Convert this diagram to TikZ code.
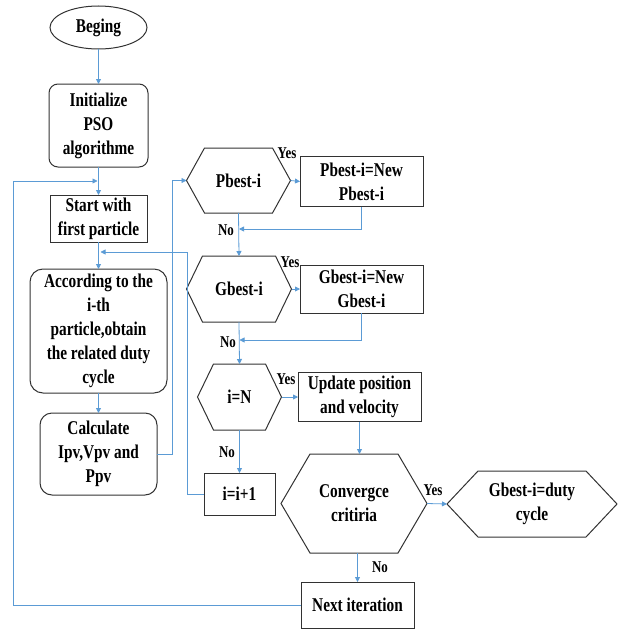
\documentclass[tikz,border=0pt]{standalone}
\usepackage{fontspec}
\setmainfont{Liberation Serif}[FakeStretch=0.785]
\usetikzlibrary{arrows.meta,shapes.geometric}
\definecolor{conncol}{RGB}{91,155,213}
\definecolor{edgecol}{RGB}{50,50,50}
\tikzset{
  txt/.style={font=\fontsize{19.5}{24}\selectfont\bfseries, align=center, inner sep=0pt, outer sep=0pt},
  sqbox/.style={txt, draw=edgecol, line width=1pt},
  rndbox/.style={sqbox, rounded corners=9pt},
  hexin/.style={txt},
  shapeline/.style={draw=edgecol, line width=1pt},
  conn/.style={draw=conncol, line width=0.8pt},
  arr/.style={conn, -{Triangle[length=5pt,width=5pt]}},
  lab/.style={font=\fontsize{16.5}{18}\selectfont\bfseries, inner sep=0pt}
}
\newcommand\myhex[6]{%
  \node[hexin, minimum width=#3, minimum height=#4] (#1) at (#2) {#6};
  \draw[shapeline] (#1.west) -- ([xshift=#5]#1.north west) -- ([xshift=-#5]#1.north east)
    -- (#1.east) -- ([xshift=-#5]#1.south east) -- ([xshift=#5]#1.south west) -- cycle;}
\begin{document}
\begin{tikzpicture}[x=1pt,y=-1pt]
\useasboundingbox (0,0) rectangle (620,629);
% left column
\node[sqbox, ellipse, minimum width=97pt, minimum height=43pt] (begin) at (98.5,27.5) {Beging};
\node[rndbox, minimum width=99pt, minimum height=83pt] (init) at (98.5,125.5) {Initialize\\PSO\\algorithme};
\node[sqbox, minimum width=97pt, minimum height=47pt] (start) at (98.5,218.5) {Start with\\first particle};
\node[rndbox, rounded corners=13pt, minimum width=137pt, minimum height=124pt] (accord) at (98.5,331) {According to the\\i-th\\particle,obtain\\the related duty\\cycle};
\node[rndbox, rounded corners=12pt, minimum width=117pt, minimum height=82pt] (calc) at (98.5,454) {Calculate\\Ipv,Vpv and\\Ppv};
% right column
\myhex{pbest}{238.5,180.5}{104pt}{65pt}{18pt}{Pbest-i}
\node[sqbox, minimum width=123pt, minimum height=50pt] (pnew) at (361.5,181.5) {Pbest-i=New\\Pbest-i};
\myhex{gbest}{239,289}{105pt}{66pt}{16pt}{Gbest-i}
\node[sqbox, minimum width=123pt, minimum height=48pt] (gnew) at (361.5,289) {Gbest-i=New\\Gbest-i};
\myhex{ieqn}{239.5,397}{84pt}{66pt}{16pt}{i=N}
\node[sqbox, minimum width=123pt, minimum height=49pt] (upd) at (359.5,397) {Update position\\and velocity};
\node[sqbox, minimum width=71pt, minimum height=42pt] (inc) at (239.5,494) {i=i+1};
\myhex{conv}{354,503.5}{146pt}{99pt}{29pt}{Convergce\\critiria}
\myhex{duty}{532,504}{170pt}{66pt}{31pt}{Gbest-i=duty\\cycle}
\node[sqbox, minimum width=113pt, minimum height=46pt] (next) at (357.5,605) {Next iteration};
% junction coordinates
\coordinate (jloop) at (98.5,181);
\coordinate (jinc) at (98.5,252);
\coordinate (jp) at (239,229);
\coordinate (jg) at (239.5,340);
% flow
\draw[arr] (begin) -- (init);
\draw[arr] (init) -- (start);
\draw[arr] (start) -- (accord);
\draw[arr] (accord) -- (calc);
\draw[arr] (calc.east) -| (172,180.5) -- (pbest.west);
\draw[arr] (pbest.east) -- (pnew.west);
\draw[arr] (pnew.south) |- (jp);
\draw[arr] (pbest.south) -- (gbest.north);
\draw[arr] (gbest.east) -- (gnew.west);
\draw[arr] (gnew.south) |- (jg);
\draw[arr] (gbest.south) -- (ieqn.north);
\draw[arr] (ieqn.east) -- (upd.west);
\draw[arr] (ieqn.south) -- (inc.north);
\draw[arr] (inc.west) -| (187,252) -- ([xshift=2pt]jinc);
\draw[arr] (upd.south) -- (upd.south |- conv.north);
\draw[arr] (conv.east) -- (duty.west);
\draw[arr] (next.north |- conv.south) -- (next.north);
\draw[arr] (next.west) -| (13,181) -- ([xshift=-1pt]jloop);
% labels
\node[lab] (y1) at (287,153) {Yes};
\node[lab] (n1) at (226,230) {No};
\node[lab] (y2) at (290,262) {Yes};
\node[lab] (n2) at (228,342) {No};
\node[lab] (y3) at (286,379) {Yes};
\node[lab] (n3) at (227,452) {No};
\node[lab] (y4) at (433,490) {Yes};
\node[lab] (n4) at (380,567) {No};
\end{tikzpicture}
\end{document}
